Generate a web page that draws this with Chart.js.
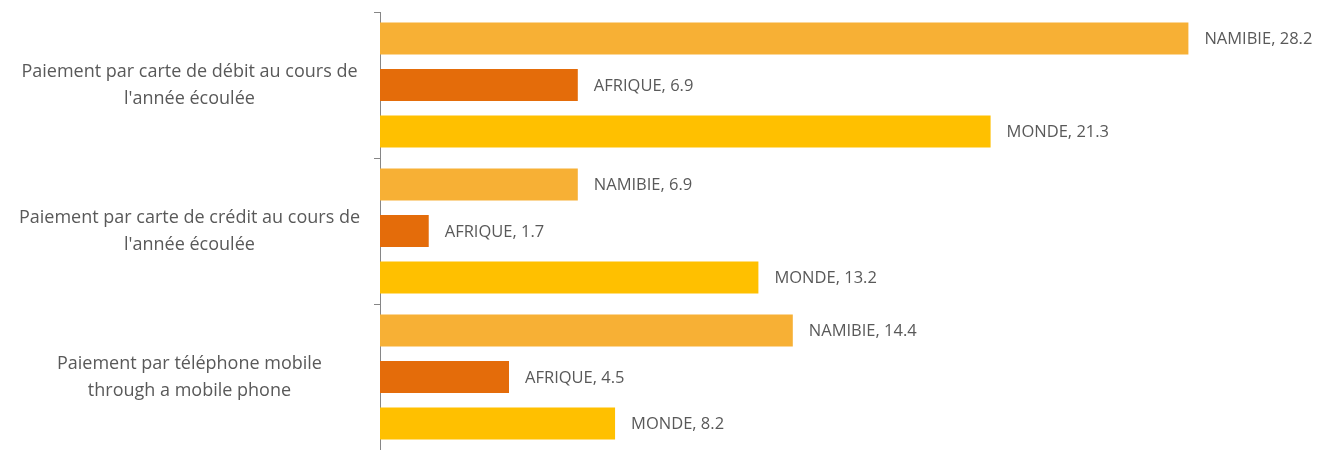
<!DOCTYPE html>
<html lang="fr">
<head>
  <meta charset="UTF-8" />
  <title>Paiements - Namibie</title>
  <style>
    body { margin: 0; background: #fff; }
    #wrap { width: 1326px; height: 450px; }
  </style>
</head>
<body>
  <div id="wrap">
    <canvas id="paiementsChart" width="1326" height="450"></canvas>
  </div>

  <script src="https://cdn.jsdelivr.net/npm/chart.js"></script>
  <script>
    const categories = [
      ['Paiement par carte de débit au cours de', "l'année écoulée"],
      ['Paiement par carte de crédit au cours de', "l'année écoulée"],
      ['Paiement par téléphone mobile', 'through a mobile phone']
    ];
    const namibie = [28.2, 6.9, 14.4];
    const afrique = [6.9, 1.7, 4.5];
    const monde = [21.3, 13.2, 8.2];

    const gris = '#595959';
    const police = "'Open Sans', sans-serif";

    // étiquettes "SERIE, valeur" à droite des barres
    const etiquettes = {
      id: 'etiquettes',
      afterDatasetsDraw(chart) {
        const c = chart.ctx;
        c.save();
        c.font = '16.5px ' + police;
        c.fillStyle = gris;
        c.textAlign = 'left';
        c.textBaseline = 'middle';
        chart.data.datasets.forEach((ds, i) => {
          chart.getDatasetMeta(i).data.forEach((bar, j) => {
            c.fillText(ds.label + ', ' + ds.data[j], bar.x + 16, bar.y + 1);
          });
        });
        c.restore();
      }
    };

    const ctx = document.getElementById('paiementsChart').getContext('2d');
    new Chart(ctx, {
      type: 'bar',
      data: {
        labels: categories,
        datasets: [
          { label: 'NAMIBIE', data: namibie, backgroundColor: '#F7B035' },
          { label: 'AFRIQUE', data: afrique, backgroundColor: '#E46C0A' },
          { label: 'MONDE', data: monde, backgroundColor: '#FFC000' }
        ]
      },
      options: {
        indexAxis: 'y',
        responsive: false,
        animation: false,
        layout: { padding: { top: 12, right: 86, left: 0, bottom: 0 } },
        datasets: {
          bar: { categoryPercentage: 0.954, barPercentage: 0.69 }
        },
        plugins: {
          legend: { display: false },
          tooltip: { enabled: false }
        },
        scales: {
          x: { display: false, min: 0, max: 30 },
          y: {
            grid: { drawOnChartArea: false, tickLength: 6, color: '#868686', offset: true },
            border: { color: '#868686', width: 1 },
            ticks: {
              color: gris,
              font: { family: police, size: 18, lineHeight: 1.5 },
              crossAlign: 'center',
              padding: 14
            },
            afterFit(axis) {
              axis.width = 380;
              axis.paddingTop = 0;
              axis.paddingBottom = 0;
            }
          }
        }
      },
      plugins: [etiquettes]
    });
  </script>
</body>
</html>
